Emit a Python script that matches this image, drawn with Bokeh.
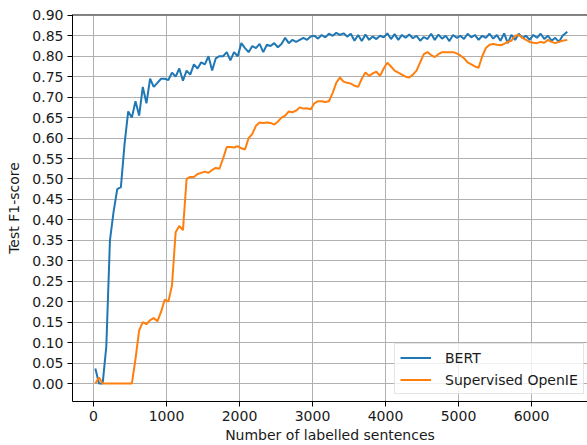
from bokeh.plotting import figure
from bokeh.models import Range1d, Span, Legend, LegendItem, FixedTicker, ColumnDataSource, CustomJSTickFormatter
from bokeh.embed import file_html
from bokeh.resources import INLINE

sentences = [
    25, 75, 125, 175, 225, 275, 325, 375, 425, 475,
    525, 575, 625, 675, 725, 775, 825, 875, 925, 975,
    1025, 1075, 1125, 1175, 1225, 1275, 1325, 1375, 1425, 1475,
    1525, 1575, 1625, 1675, 1725, 1775, 1825, 1875, 1925, 1975,
    2025, 2075, 2125, 2175, 2225, 2275, 2325, 2375, 2425, 2475,
    2525, 2575, 2625, 2675, 2725, 2775, 2825, 2875, 2925, 2975,
    3025, 3075, 3125, 3175, 3225, 3275, 3325, 3375, 3425, 3475,
    3525, 3575, 3625, 3675, 3725, 3775, 3825, 3875, 3925, 3975,
    4025, 4075, 4125, 4175, 4225, 4275, 4325, 4375, 4425, 4475,
    4525, 4575, 4625, 4675, 4725, 4775, 4825, 4875, 4925, 4975,
    5025, 5075, 5125, 5175, 5225, 5275, 5325, 5375, 5425, 5475,
    5525, 5575, 5625, 5675, 5725, 5775, 5825, 5875, 5925, 5975,
    6025, 6075, 6125, 6175, 6225, 6275, 6325, 6375, 6425, 6490,
]

bert_f1 = [
    0.037, 0.0, 0.0, 0.09, 0.35, 0.42, 0.475, 0.48, 0.585, 0.665,
    0.65, 0.69, 0.655, 0.725, 0.685, 0.745, 0.725, 0.735, 0.745, 0.745,
    0.742, 0.76, 0.75, 0.77, 0.74, 0.765, 0.755, 0.78, 0.77, 0.785,
    0.78, 0.80, 0.765, 0.795, 0.80, 0.80, 0.81, 0.79, 0.81, 0.80,
    0.832, 0.82, 0.81, 0.825, 0.82, 0.83, 0.81, 0.828, 0.825, 0.832,
    0.822, 0.83, 0.845, 0.832, 0.84, 0.835, 0.84, 0.845, 0.84, 0.848,
    0.85, 0.843, 0.852, 0.846, 0.855, 0.85, 0.857, 0.852, 0.856, 0.848,
    0.855, 0.838, 0.852, 0.837, 0.853, 0.84, 0.848, 0.842, 0.85, 0.846,
    0.856, 0.842, 0.854, 0.84, 0.852, 0.845, 0.853, 0.844, 0.85, 0.838,
    0.847, 0.842, 0.855, 0.84, 0.853, 0.843, 0.85, 0.837, 0.852, 0.845,
    0.85, 0.842, 0.855, 0.846, 0.852, 0.84, 0.85, 0.845, 0.855, 0.843,
    0.852, 0.838, 0.856, 0.832, 0.852, 0.84, 0.855, 0.845, 0.85, 0.84,
    0.852, 0.845, 0.855, 0.842, 0.85, 0.838, 0.845, 0.835, 0.85, 0.86,
]

openie_f1 = [
    0.0, 0.015, 0.0, 0.0, 0.0, 0.0, 0.0, 0.0, 0.0, 0.0,
    0.0, 0.06, 0.13, 0.15, 0.145, 0.155, 0.16, 0.152, 0.175, 0.205,
    0.20, 0.24, 0.37, 0.385, 0.375, 0.50, 0.505, 0.505, 0.512, 0.515,
    0.518, 0.515, 0.522, 0.527, 0.525, 0.55, 0.578, 0.578, 0.577, 0.58,
    0.575, 0.572, 0.60, 0.61, 0.63, 0.638, 0.637, 0.638, 0.637, 0.633,
    0.64, 0.65, 0.655, 0.665, 0.663, 0.667, 0.675, 0.672, 0.673, 0.67,
    0.685, 0.69, 0.69, 0.688, 0.69, 0.71, 0.735, 0.748, 0.738, 0.735,
    0.733, 0.728, 0.725, 0.745, 0.76, 0.752, 0.758, 0.762, 0.752, 0.77,
    0.784, 0.775, 0.765, 0.76, 0.755, 0.75, 0.748, 0.755, 0.765, 0.785,
    0.805, 0.81, 0.803, 0.798, 0.805, 0.81, 0.81, 0.81, 0.81, 0.807,
    0.802, 0.795, 0.785, 0.78, 0.775, 0.772, 0.80, 0.82, 0.828, 0.83,
    0.828, 0.827, 0.83, 0.835, 0.838, 0.85, 0.852, 0.845, 0.84, 0.835,
    0.833, 0.832, 0.835, 0.833, 0.84, 0.835, 0.832, 0.835, 0.838, 0.84,
]

series_names = ["BERT", "Supervised OpenIE"]
x_ticks = [0, 1000, 2000, 3000, 4000, 5000, 6000]
y_ticks = [0.0, 0.05, 0.10, 0.15, 0.20, 0.25, 0.30, 0.35, 0.40, 0.45,
           0.50, 0.55, 0.60, 0.65, 0.70, 0.75, 0.80, 0.85, 0.90]
x_label = "Number of labelled sentences"
y_label = "Test F1-score"

FONT = "DejaVu Sans"
TXT = "#1a1a1a"

p = figure(width=587, height=445, output_backend="svg", toolbar_location=None,
           x_range=Range1d(-288, 6767), y_range=Range1d(-0.0439, 0.902),
           min_border_left=72, min_border_right=0, min_border_top=14,
           min_border_bottom=44)
p.outline_line_color = None
p.background_fill_color = "white"
p.border_fill_color = "white"

src = ColumnDataSource(dict(x=sentences, bert=bert_f1, oie=openie_f1))
r1 = p.line("x", "bert", source=src, line_color="#1f77b4", line_width=2)
r2 = p.line("x", "oie", source=src, line_color="#ff7f0e", line_width=2)

p.add_layout(Span(location=0.902, dimension="width", line_color="black", line_width=1.6))

for ax, ticks in ((p.xaxis[0], x_ticks), (p.yaxis[0], y_ticks)):
    ax.ticker = FixedTicker(ticks=ticks)
    ax.minor_tick_line_color = None
    ax.major_tick_out = 5
    ax.major_tick_in = 0
    ax.axis_line_color = "black"
    ax.axis_line_width = 1
    ax.major_tick_line_color = "black"
    ax.major_label_text_font = FONT
    ax.major_label_text_font_size = "14px"
    ax.major_label_text_color = TXT
    ax.axis_label_text_font = FONT
    ax.axis_label_text_font_size = "14px"
    ax.axis_label_text_font_style = "normal"
    ax.axis_label_text_color = TXT
    ax.major_label_standoff = 4

p.xaxis[0].axis_label = x_label
p.yaxis[0].axis_label = y_label
p.xaxis[0].axis_label_standoff = 3
p.yaxis[0].axis_label_standoff = 7
p.yaxis[0].formatter = CustomJSTickFormatter(code="return tick.toFixed(2);")

p.grid.grid_line_color = "#b0b0b0"
p.grid.grid_line_width = 1
p.xgrid.ticker = FixedTicker(ticks=x_ticks)
p.ygrid.ticker = FixedTicker(ticks=y_ticks)

legend = Legend(items=[LegendItem(label=series_names[0], renderers=[r1]),
                       LegendItem(label=series_names[1], renderers=[r2])],
                location=(322, 7))
legend.label_text_font = FONT
legend.label_text_font_size = "14px"
legend.label_text_color = TXT
legend.glyph_width = 31
legend.glyph_height = 17
legend.label_height = 17
legend.label_standoff = 14
legend.spacing = 5
legend.padding = 5
legend.margin = 0
legend.border_line_color = "#cccccc"
legend.border_line_width = 1
legend.background_fill_alpha = 0.8
p.add_layout(legend)

open("out.html", "w").write(file_html(p, INLINE))
